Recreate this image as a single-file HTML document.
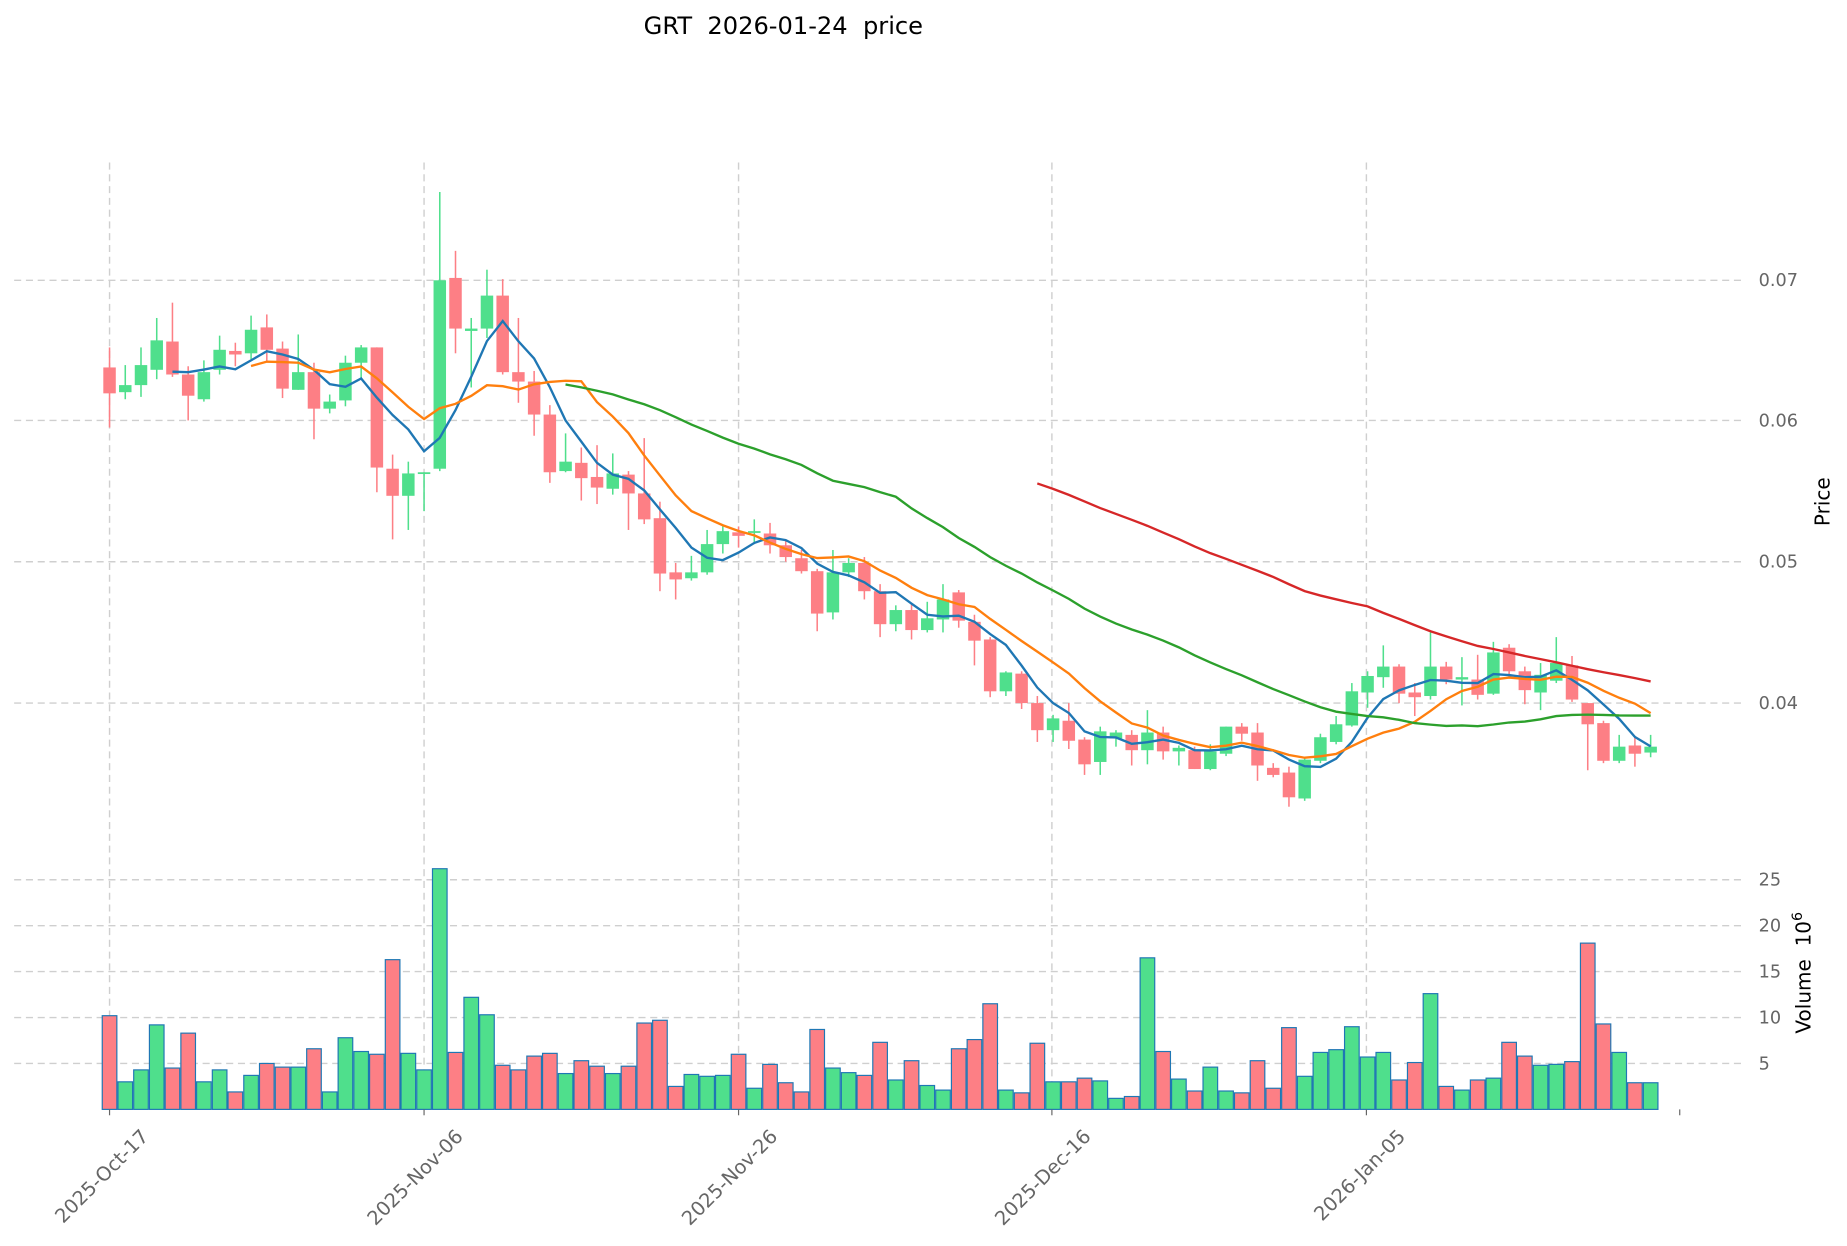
<!DOCTYPE html>
<html><head><meta charset="utf-8"><style>
html,body{margin:0;padding:0;background:#fff;}
svg{display:block;font-family:"DejaVu Sans","Liberation Sans",sans-serif;}
</style></head><body>
<svg id="c" width="1847" height="1246" viewBox="0 0 1568 1058" preserveAspectRatio="none" xmlns="http://www.w3.org/2000/svg">
<text x="665" y="29" font-size="20.5" text-anchor="middle" fill="#000">GRT&#160;&#160;2026-01-24&#160;&#160;price</text>
<g id="grid" stroke="#cfcfcf" stroke-width="1.2" stroke-dasharray="6,4" fill="none"></g>
<g id="vol"></g>
<g id="cand"></g>
<g id="ma" fill="none" stroke-width="2"></g>
<g id="lab" font-size="15" fill="#666"></g>
<text transform="translate(1553,426) rotate(-90)" font-size="17" text-anchor="middle" fill="#000">Price</text>
<text transform="translate(1537,826) rotate(-90)" font-size="17" text-anchor="middle" fill="#000">Volume&#160;&#160;10<tspan dy="-7" font-size="12">6</tspan></text>
</svg>
<script>
var C=[[312,334,295,363,0],[333,327,310,339,1],[327,310,295,337,1],[314,289,270,322,1],[290,318,257,320,0],[318,336,311,357,0],[339,316,306,341,1],[314,297,285,318,1],[298,301,291,311,0],[300,280,268,305,1],[278,297,267,307,0],[296,330,290,338,0],[331,316,284,331,1],[316,347,308,373,0],[347,341,335,351,1],[340,308,302,345,1],[308,295,293,322,1],[295,397,295,418,0],[398,421,386,458,0],[421,402,392,450,1],[402,401,401,434,1],[398,238,163,400,1],[236,279,213,300,0],[281,279,270,329,1],[279,251,229,287,1],[251,316,237,318,0],[316,324,270,342,0],[324,352,315,370,0],[352,401,344,410,0],[400,392,368,401,1],[393,406,380,425,0],[405,414,378,428,0],[415,402,385,420,1],[403,419,400,450,0],[419,441,372,445,0],[440,487,426,502,0],[486,492,478,509,0],[491,486,472,493,1],[486,462,450,488,1],[462,451,447,470,1],[452,455,447,465,0],[452,451,441,462,1],[453,463,444,470,0],[463,473,458,477,0],[474,485,467,487,0],[485,521,483,536,0],[520,486,467,526,1],[486,478,474,490,1],[478,502,473,509,0],[502,530,496,541,0],[530,518,514,536,1],[518,535,513,543,0],[535,525,511,537,1],[526,509,496,537,1],[503,527,501,533,0],[528,544,522,565,0],[543,587,541,592,0],[587,571,570,591,1],[572,597,570,602,0],[597,620,591,630,0],[620,610,607,630,1],[612,629,597,636,0],[628,649,626,658,0],[647,621,617,658,1],[627,622,620,634,1],[624,637,620,650,0],[637,622,603,649,1],[622,638,617,645,0],[638,635,633,650,1],[637,653,634,653,0],[653,638,632,654,1],[640,617,617,642,1],[617,623,614,629,0],[622,650,614,663,0],[652,658,648,660,0],[656,677,651,685,0],[678,645,643,680,1],[646,626,623,648,1],[630,615,608,632,1],[616,587,580,617,1],[588,574,570,601,1],[575,566,548,584,1],[566,589,564,597,0],[588,592,580,608,0],[591,566,537,594,1],[566,577,562,581,0],[577,575,558,599,1],[577,590,556,594,0],[589,554,545,590,1],[550,570,547,576,0],[570,586,566,598,0],[588,573,563,603,1],[578,563,541,580,1],[565,594,557,596,0],[597,615,597,654,0],[614,646,612,648,0],[646,634,624,648,1],[633,640,625,651,0],[639,634,624,643,1]];
var V=[10.2,3,4.3,9.2,4.5,8.3,3,4.3,1.9,3.7,5,4.6,4.6,6.6,1.9,7.8,6.3,6,16.3,6.1,4.3,26.2,6.2,12.2,10.3,4.8,4.3,5.8,6.1,3.9,5.3,4.7,3.9,4.7,9.4,9.7,2.5,3.8,3.6,3.7,6,2.3,4.9,2.9,1.9,8.7,4.5,4,3.7,7.3,3.2,5.3,2.6,2.1,6.6,7.6,11.5,2.1,1.8,7.2,3,3,3.4,3.1,1.2,1.4,16.5,6.3,3.3,2,4.6,2,1.8,5.3,2.3,8.9,3.6,6.2,6.5,9,5.7,6.2,3.2,5.1,12.6,2.5,2.1,3.2,3.4,7.3,5.8,4.8,4.9,5.2,18.1,9.3,6.2,2.9,2.9];
var NS="http://www.w3.org/2000/svg";
function el(p,t,a,txt){var e=document.createElementNS(NS,t);for(var k in a)e.setAttribute(k,a[k]);if(txt!=null)e.textContent=txt;document.getElementById(p).appendChild(e);return e;}
function X(i){return 93+13.35*i;}
[93,360,627,893,1160].forEach(function(x){el('grid','line',{x1:x,x2:x,y1:138,y2:942});});
[[238,'0.07'],[357,'0.06'],[477,'0.05'],[597,'0.04']].forEach(function(g){el('grid','line',{x1:12,x2:1480,y1:g[0],y2:g[0]});el('lab','text',{x:1493,y:g[0]+5},g[1]);});
[[747,'25'],[786,'20'],[825,'15'],[864,'10'],[903,'5']].forEach(function(g){el('grid','line',{x1:12,x2:1480,y1:g[0],y2:g[0]});el('lab','text',{x:1493,y:g[0]+5},g[1]);});
[[93,'2025-Oct-17'],[360,'2025-Nov-06'],[627,'2025-Nov-26'],[893,'2025-Dec-16'],[1160,'2026-Jan-05'],[1426,'']].forEach(function(t){el('lab','line',{x1:t[0],x2:t[0],y1:942,y2:947,stroke:'#666','stroke-width':1});if(t[1])el('lab','text',{transform:'translate('+(t[0]+34)+',966) rotate(-45)','text-anchor':'end','font-size':'16.5'},t[1]);});
V.forEach(function(v,i){var h=v*7.8;el('vol','rect',{x:X(i)-6.2,y:942-h,width:12.4,height:h,fill:C[i][4]?'#4fdf8c':'#fd7f85',stroke:'#1f77b4','stroke-width':1});});
C.forEach(function(c,i){var col=c[4]?'#4fdf8c':'#fd7f85';var x=X(i);el('cand','line',{x1:x,x2:x,y1:c[2],y2:c[3],stroke:col,'stroke-width':1.3});var t=Math.min(c[0],c[1]),b=Math.max(c[0],c[1]);if(b-t<1.5){b=t+1.5;}el('cand','rect',{x:x-5.3,y:t,width:10.6,height:b-t,fill:col});});
function ma(n,col){var pts=[];for(var i=n-1;i<C.length;i++){var s=0;for(var j=i-n+1;j<=i;j++)s+=C[j][1];pts.push(X(i).toFixed(1)+','+(s/n).toFixed(1));}el('ma','polyline',{points:pts.join(' '),stroke:col});}
ma(5,'#1f77b4');ma(10,'#ff7f0e');ma(30,'#2ca02c');ma(60,'#d62728');
</script>
</body></html>
